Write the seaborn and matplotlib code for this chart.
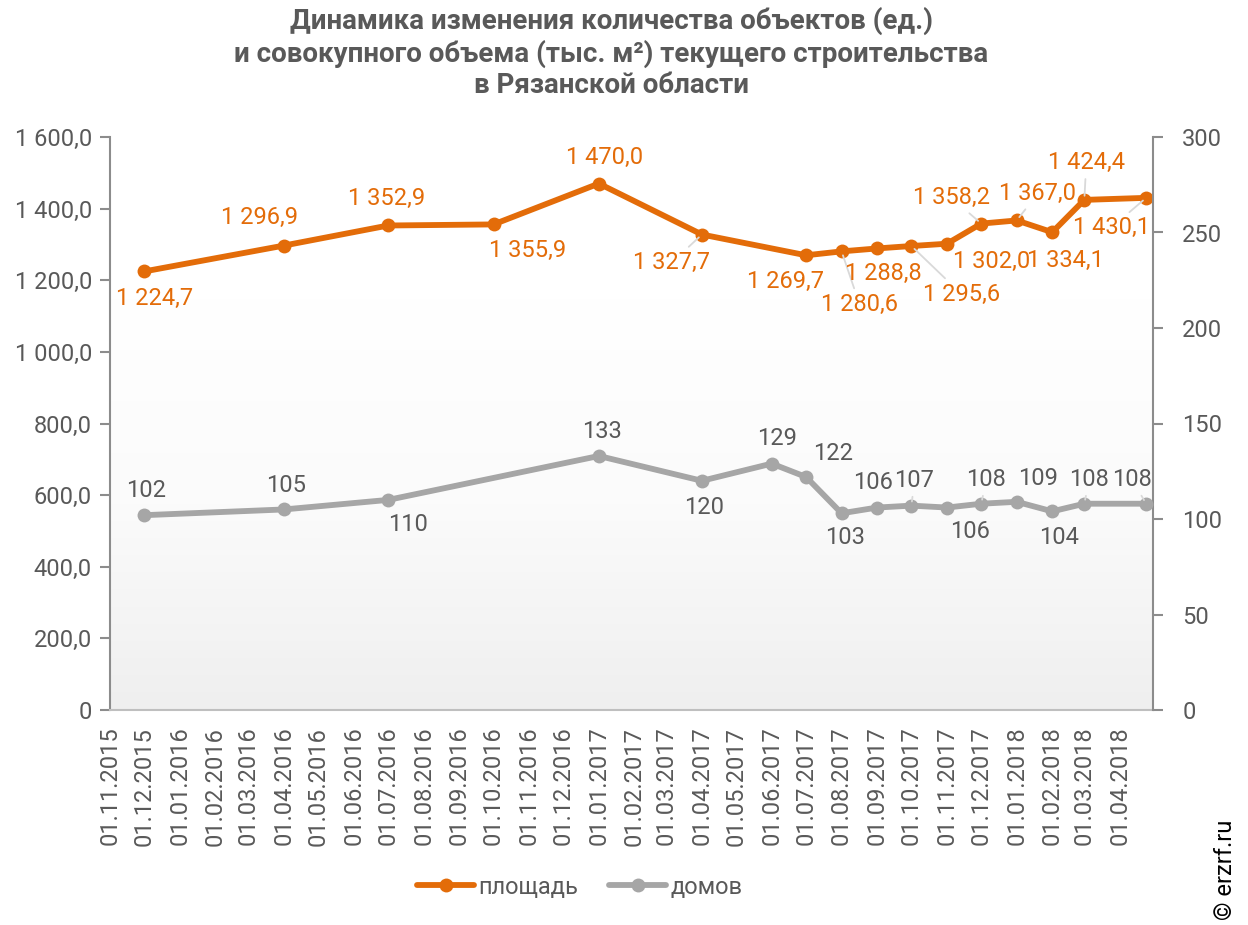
import matplotlib
matplotlib.use('Agg')
import matplotlib.pyplot as plt
import matplotlib.dates as mdates
from matplotlib.ticker import FuncFormatter, MultipleLocator
import seaborn as sns
import numpy as np
import pandas as pd

sns.set_style('white')
plt.rcParams['font.family'] = ['Roboto', 'DejaVu Sans']

# data
area_dates = ['2015-12-01', '2016-04-01', '2016-07-01', '2016-10-01', '2017-01-01', '2017-04-01',
              '2017-07-01', '2017-08-01', '2017-09-01', '2017-10-01', '2017-11-01', '2017-12-01',
              '2018-01-01', '2018-02-01', '2018-03-01', '2018-04-24']
area = [1224.7, 1296.9, 1352.9, 1355.9, 1470.0, 1327.7,
        1269.7, 1280.6, 1288.8, 1295.6, 1302.0, 1358.2,
        1367.0, 1334.1, 1424.4, 1430.1]
house_dates = ['2015-12-01', '2016-04-01', '2016-07-01', '2017-01-01', '2017-04-01', '2017-06-01',
               '2017-07-01', '2017-08-01', '2017-09-01', '2017-10-01', '2017-11-01', '2017-12-01',
               '2018-01-01', '2018-02-01', '2018-03-01', '2018-04-24']
houses = [102, 105, 110, 133, 120, 129,
          122, 103, 106, 107, 106, 108,
          109, 104, 108, 108]

# label offsets in image pixels (dx, dy down), and whether a leader line is drawn
area_offs = [(10, 27), (-25, -28), (-2, -27), (34, 26), (6, -26), (-30, 28),
             (-21, 26), (18, 53), (6, 25), (50, 48), (45, 18), (-30, -26),
             (21, -27), (13, 28), (2, -37), (-35, 30)]
area_lead = [0, 0, 0, 0, 0, 1, 0, 1, 0, 1, 0, 1, 1, 0, 1, 1]
house_offs = [(2, -25), (2, -24), (20, 25), (3, -24), (2, 27), (5, -25),
              (27, -23), (3, 24), (-4, -25), (3, -25), (23, 24), (5, -24),
              (21, -23), (7, 26), (5, -24), (-14, -24)]
house_lead = [0, 0, 0, 0, 0, 0, 0, 0, 0, 1, 0, 1, 0, 0, 1, 1]

df_area = pd.DataFrame({'date': pd.to_datetime(area_dates), 'value': area})
df_house = pd.DataFrame({'date': pd.to_datetime(house_dates), 'value': houses})

ORANGE = '#E36C09'
GRAY = '#A6A6A6'
TXT = '#595959'
FS = 17

fig = plt.figure(figsize=(12.48, 9.25), dpi=100)
ax = fig.add_axes([110/1248, 1 - 710/925, 1043/1248, 573/925])
ax2 = ax.twinx()

xmin = pd.Timestamp('2015-11-01')
xmax = pd.Timestamp('2018-04-30')

# background gradient
grad = np.linspace(0, 1, 256).reshape(-1, 1)
cmap = matplotlib.colors.LinearSegmentedColormap.from_list('bg', ['#ffffff', '#fbfbfb', '#efefef'])
ax.imshow(grad, cmap=cmap, aspect='auto', zorder=0,
          extent=[mdates.date2num(xmin), mdates.date2num(xmax), 0, 1150], origin='upper')
ax.set_xlim(xmin, xmax)
ax.set_ylim(0, 1600)
ax2.set_ylim(0, 300)

sns.lineplot(data=df_area, x='date', y='value', ax=ax, color=ORANGE, linewidth=4.2,
             marker='o', markersize=10, markeredgewidth=0, label='площадь', legend=False, zorder=5)
sns.lineplot(data=df_house, x='date', y='value', ax=ax2, color=GRAY, linewidth=4.2,
             marker='o', markersize=10, markeredgewidth=0, label='домов', legend=False, zorder=5)


def fmt_num(v):
    s = f'{v:,.1f}'.replace(',', ' ').replace('.', ',')
    return s


def put_labels(axis, df, offs, leads, color, fmt):
    for (d, v), (dx, dy), lead in zip(df[['date', 'value']].values, offs, leads):
        kw = {}
        if lead:
            kw['arrowprops'] = dict(arrowstyle='-', color='#d9d9d9', lw=1.3, shrinkA=1, shrinkB=3)
        axis.annotate(fmt(v), xy=(d, v), xytext=(dx, -dy), textcoords='offset pixels',
                      ha='center', va='center', fontsize=FS, color=color, zorder=6, **kw)


put_labels(ax, df_area, area_offs, area_lead, ORANGE, fmt_num)
put_labels(ax2, df_house, house_offs, house_lead, TXT, lambda v: f'{int(v)}')

# axes styling
ax.xaxis.set_major_locator(mdates.MonthLocator())
ax.xaxis.set_major_formatter(mdates.DateFormatter('%d.%m.%Y'))
ax.yaxis.set_major_locator(MultipleLocator(200))
ax.yaxis.set_major_formatter(FuncFormatter(lambda v, p: '0' if v == 0 else fmt_num(v)))
ax2.yaxis.set_major_locator(MultipleLocator(50))
ax2.yaxis.set_major_formatter(FuncFormatter(lambda v, p: f'{int(v)}'))
ax.set_xlabel('')
ax.set_ylabel('')
ax2.set_ylabel('')

for a in (ax, ax2):
    for s in a.spines.values():
        s.set_visible(False)
ax.spines['left'].set_visible(True)
ax.spines['left'].set_color('#8c8c8c')
ax.spines['left'].set_linewidth(1.5)
ax.spines['bottom'].set_visible(True)
ax.spines['bottom'].set_color('#bfbfbf')
ax.spines['bottom'].set_linewidth(1.5)
ax2.spines['right'].set_visible(True)
ax2.spines['right'].set_color('#8c8c8c')
ax2.spines['right'].set_linewidth(1.5)

ax.tick_params(axis='x', direction='out', length=8, width=1.5, color='#bfbfbf',
               labelsize=FS, labelcolor=TXT, labelrotation=90, pad=4)
ax.tick_params(axis='y', direction='out', length=7, width=1.5, color='#8c8c8c',
               labelsize=FS, labelcolor=TXT, pad=6)
ax2.tick_params(axis='y', direction='out', length=7, width=1.5, color='#8c8c8c',
                labelsize=FS, labelcolor=TXT, pad=14)
ax.patch.set_visible(False)
ax2.patch.set_visible(False)
ax.set_zorder(1)
ax2.set_zorder(2)

# legend
h1, l1 = ax.get_legend_handles_labels()
h2, l2 = ax2.get_legend_handles_labels()
fig.legend(h1 + h2, l1 + l2, loc='center', bbox_to_anchor=(580/1248, 1 - 887/925), ncol=2,
           frameon=False, fontsize=FS, labelcolor=TXT, handlelength=2.4, handletextpad=0.2,
           columnspacing=1.3)

# title
title = ('Динамика изменения количества объектов (ед.)\n'
         'и совокупного объема (тыс. м²) текущего строительства\n'
         'в Рязанской области')
fig.text(611/1248, 1 - 53/925, title, ha='center', va='center', fontsize=20, fontweight='bold',
         color=TXT, linespacing=1.2)

fig.text(1225/1248, 1 - 870/925, '© erzrf.ru', rotation=90, ha='center', va='center',
         fontsize=FS, color='#000000')

fig.savefig('out.png', dpi=100)
